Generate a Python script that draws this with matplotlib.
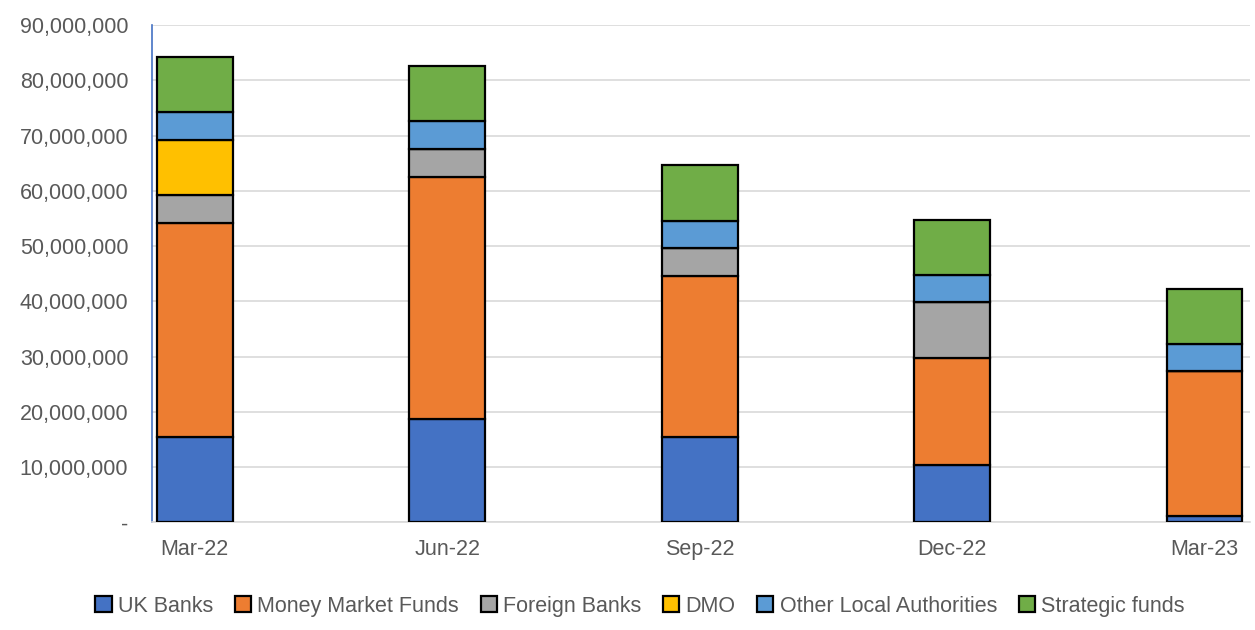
import numpy as np
import matplotlib.pyplot as plt
from matplotlib.ticker import FuncFormatter

plt.rcParams['font.family'] = ['Liberation Sans', 'DejaVu Sans']

# data
quarters = ['Mar-22', 'Jun-22', 'Sep-22', 'Dec-22', 'Mar-23']
uk_banks = [15500000, 18700000, 15400000, 10300000, 1200000]
money_market = [38700000, 43900000, 29200000, 19500000, 26100000]
foreign_banks = [5000000, 5000000, 5000000, 10000000, 0]
dmo = [10000000, 0, 0, 0, 0]
other_la = [5000000, 5000000, 5000000, 5000000, 5000000]
strategic = [10000000, 10000000, 10000000, 10000000, 10000000]

series = [
    ('UK Banks', uk_banks, '#4472C4'),
    ('Money Market Funds', money_market, '#ED7D31'),
    ('Foreign Banks', foreign_banks, '#A5A5A5'),
    ('DMO', dmo, '#FFC000'),
    ('Other Local Authorities', other_la, '#5B9BD5'),
    ('Strategic funds', strategic, '#70AD47'),
]

fig = plt.figure(figsize=(12.55, 6.3), dpi=100)
ax = fig.add_axes([0.121, 0.171, 0.875, 0.789])

x = np.arange(len(quarters))
bottom = np.zeros(len(quarters))
handles = []
for name, vals, col in series:
    vals = np.array(vals, dtype=float)
    b = ax.bar(x, vals, 0.3, bottom=bottom, color=col, edgecolor='black',
               linewidth=1.6, label=name, zorder=3)
    handles.append(b)
    bottom += vals

ax.set_ylim(0, 90000000)
ax.set_yticks(np.arange(0, 90000001, 10000000))
ax.yaxis.set_major_formatter(FuncFormatter(lambda v, p: '-' if v == 0 else f'{v:,.0f}'))
ax.set_xlim(-0.17, 4.18)
ax.set_xticks(x)
ax.set_xticklabels(quarters)

ax.grid(axis='y', color='#d9d9d9', linewidth=1.2, zorder=0)
ax.tick_params(length=0, labelsize=15.5, colors='#595959')
ax.tick_params(axis='y', pad=17)
ax.tick_params(axis='x', pad=12)
for s in ['top', 'right']:
    ax.spines[s].set_visible(False)
ax.spines['left'].set_color('#4472C4')
ax.spines['left'].set_linewidth(1.2)
ax.spines['bottom'].set_color('#d9d9d9')
ax.spines['bottom'].set_linewidth(1.2)

leg = fig.legend(handles=handles, loc='center', bbox_to_anchor=(0.51, 0.038), ncol=6,
                 frameon=False, fontsize=15.5, handlelength=0.75, handleheight=0.75,
                 handletextpad=0.3, columnspacing=1.0)
for t in leg.get_texts():
    t.set_color('#595959')

fig.savefig('out.png', dpi=100)
